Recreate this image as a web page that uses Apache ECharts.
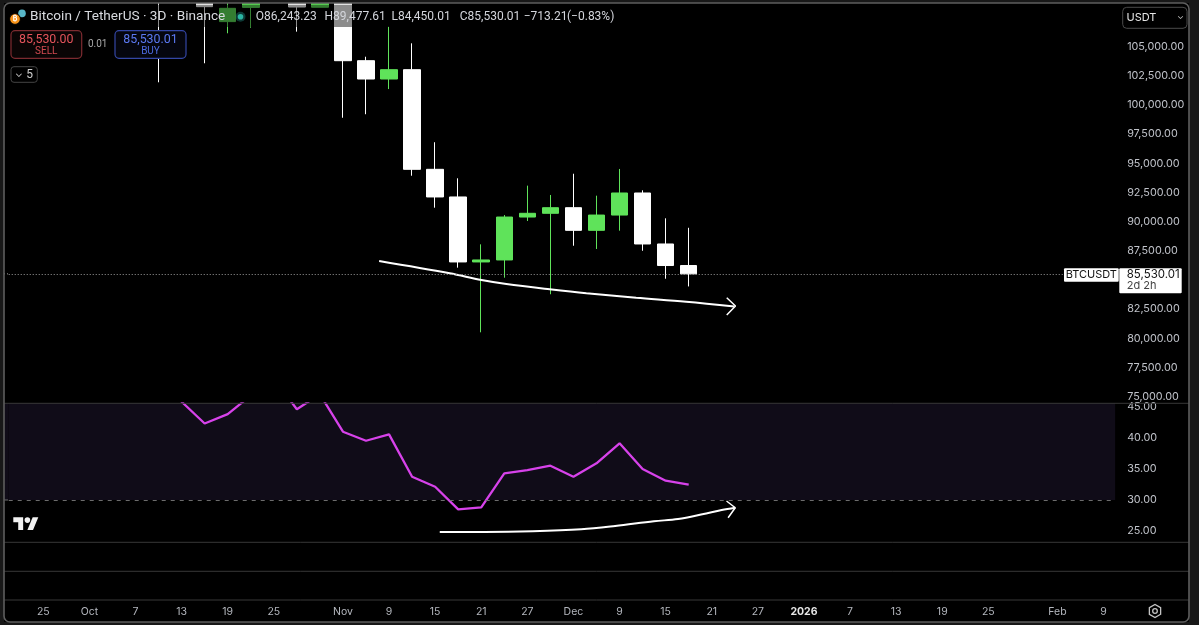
<!DOCTYPE html>
<html><head><meta charset="utf-8">
<script src="https://cdn.jsdelivr.net/npm/echarts@6/dist/echarts.min.js"></script>
<style>html,body{margin:0;padding:0;background:#181818;}#c{width:1199px;height:625px;}</style>
</head><body><div id="c"></div>
<script>
// ---- data ----
const dates = ['2025-09-22','2025-09-25','2025-09-28','2025-10-01','2025-10-04','2025-10-07','2025-10-10','2025-10-13','2025-10-16','2025-10-19','2025-10-22','2025-10-25','2025-10-28','2025-10-31','2025-11-03','2025-11-06','2025-11-09','2025-11-12','2025-11-15','2025-11-18','2025-11-21','2025-11-24','2025-11-27','2025-11-30','2025-12-03','2025-12-06','2025-12-09','2025-12-12','2025-12-15','2025-12-18','2025-12-21','2025-12-24','2025-12-27','2025-12-30','2026-01-01','2026-01-04','2026-01-07','2026-01-10','2026-01-13','2026-01-16','2026-01-19','2026-01-22','2026-01-25','2026-01-28','2026-01-31','2026-02-03','2026-02-06','2026-02-09'];
const tickLabels = {'2025-09-25':'25','2025-10-01':'Oct','2025-10-07':'7','2025-10-13':'13','2025-10-19':'19','2025-10-25':'25','2025-11-03':'Nov','2025-11-09':'9','2025-11-15':'15','2025-11-21':'21','2025-11-27':'27','2025-12-03':'Dec','2025-12-09':'9','2025-12-15':'15','2025-12-21':'21','2025-12-27':'27','2026-01-01':'2026','2026-01-07':'7','2026-01-13':'13','2026-01-19':'19','2026-01-25':'25','2026-02-03':'Feb','2026-02-09':'9'};
const openP  = [115300,113300,109700,114300,122300,124700,121500,115200,110700,107150,108370,111000,114100,108380,110500,103800,102230,103030,94490,92120,86550,86720,90400,90720,91200,89260,90570,92460,88090,86243.23];
const highP  = [115400,113500,114800,123900,125500,126200,122500,116000,111700,110700,111900,116100,116000,111200,110800,104140,106710,105290,96810,93720,88060,90570,93090,92290,94110,92230,94520,92690,90290,89477.61];
const lowP   = [111900,109000,109300,113800,121700,120600,101950,110200,103580,106150,106630,110700,106290,108380,98910,99210,101370,93940,91200,86060,80520,85200,90060,83780,87940,87660,89230,87510,85110,84450.01];
const closeP = [113300,109700,114300,122300,124700,121500,115200,110700,108430,108290,111000,114100,108400,110500,103800,102230,103030,94490,92120,86550,86720,90400,90720,91200,89260,90570,92460,88090,86243.22,85530.01];
const rsiValues = [55,50,56,64,66,62,52,45.8,42.3,43.8,46.8,49.5,44.6,47.0,40.98,39.53,40.56,33.75,32.14,28.5,28.83,34.29,34.82,35.51,33.75,35.9,39.12,34.98,33.1,32.46];
const priceTicks = [105000,102500,100000,97500,95000,92500,90000,87500,82500,80000,77500,75000];
const rsiTicks = [25,30,35,40,45];
// hand-drawn annotations, in [candle number counted from Sep 25, value]
const trendPrice = [[14.57,86631],[17.63,85577],[19.01,85003],[20.09,84660],[21.97,84206],[23.56,83863],[25.72,83486],[27.89,83143],[29.98,82731]];
const arrowPrice = [[29.65,83486],[30.03,82774],[29.65,82003]];
const trendRsi = [[17.2,24.86],[19.14,24.86],[21.23,24.97],[23.34,25.29],[24.81,25.82],[26.49,26.58],[27.54,26.95],[28.59,27.7],[29.43,28.39],[30.02,28.76]];
const arrowRsi = [[29.64,29.84],[30.02,28.76],[29.71,27.15]];
const symbolTitle = 'Bitcoin / TetherUS · 3D · Binance';
const countdown = '2d 2h';

// ---- layout ----
const FONT = 'Inter, "Noto Sans", sans-serif';
const HFONT = 'Roboto, "Noto Sans", sans-serif';
const BW = 23.05;
const GL = 43.3 - 1.5*BW, GW = dates.length*BW;
const priceMin = 74434, priceMax = 108600;
const rsiMin = 23.2, rsiMax = 45.55;
const kMin = -1.5, kMax = dates.length - 1.5;
const UP = '#5fe35a', DOWN = '#ffffff';

const candles = openP.map((o,i)=>[o, closeP[i], lowP[i], highP[i]]);
const fmt2 = v => v.toLocaleString('en-US',{minimumFractionDigits:2, maximumFractionDigits:2});
const lastI = closeP.length-1;
const lastClose = closeP[lastI];

const chart = echarts.init(document.getElementById('c'), null, {renderer:'canvas'});
chart.setOption({
  animation:false,
  backgroundColor:'#000000',
  grid:[
    {left:GL, width:GW, top:4.7, height:398.6},
    {left:GL, width:GW, top:403.3, height:139},
    {left:GL, width:GW, top:542.3, height:57.7}
  ],
  xAxis:[
    {type:'category', gridIndex:0, data:dates, show:false},
    {type:'category', gridIndex:1, data:dates, show:false},
    {type:'category', gridIndex:2, data:dates, axisLine:{show:false}, axisTick:{show:false}, splitLine:{show:false},
      axisLabel:{interval:(i,v)=>tickLabels[v]!==undefined, margin:6, color:'#b4b7be', fontSize:10.5, fontFamily:FONT,
        formatter:v=> v==='2026-01-01' ? '{b|'+tickLabels[v]+'}' : (tickLabels[v]||''),
        rich:{b:{fontWeight:'bold', color:'#e6e6e6', fontSize:10.5, fontFamily:FONT}}}},
    {type:'value', gridIndex:0, min:kMin, max:kMax, show:false},
    {type:'value', gridIndex:1, min:kMin, max:kMax, show:false}
  ],
  yAxis:[
    {type:'value', gridIndex:0, position:'right', min:priceMin, max:priceMax,
      axisLine:{show:false}, axisTick:{show:false}, splitLine:{show:false},
      axisLabel:{customValues:priceTicks, formatter:v=>fmt2(v), color:'#c0c3ca', fontSize:10.8, fontFamily:FONT, align:'left', margin:12}},
    {type:'value', gridIndex:1, position:'right', min:rsiMin, max:rsiMax,
      axisLine:{show:false}, axisTick:{show:false}, splitLine:{show:false},
      axisLabel:{customValues:rsiTicks, formatter:v=>v.toFixed(2), color:'#c0c3ca', fontSize:10.8, fontFamily:FONT, align:'left', margin:12}},
    {type:'value', gridIndex:2, min:0, max:1, show:false}
  ],
  series:[
    {type:'candlestick', xAxisIndex:0, yAxisIndex:0, data:candles, barWidth:17, clip:true,
      itemStyle:{color:UP, color0:DOWN, borderColor:UP, borderColor0:DOWN, borderWidth:1},
      markLine:{silent:true, symbol:'none', label:{show:false},
        lineStyle:{type:[1,2], color:'#9a9a9a', width:1}, data:[{yAxis:lastClose}]}},
    {type:'line', xAxisIndex:1, yAxisIndex:1, data:rsiValues, symbol:'none', clip:true,
      lineStyle:{color:'#d742ea', width:2.3}, z:3,
      markArea:{silent:true, itemStyle:{color:'#100c18'}, data:[[{yAxis:30},{yAxis:rsiMax}]]},
      markLine:{silent:true, symbol:'none', label:{show:false},
        lineStyle:{type:[4,5], color:'#6c6c6c', width:1}, data:[{yAxis:30}]}},
    {type:'line', xAxisIndex:3, yAxisIndex:0, data:trendPrice, smooth:0.35, symbol:'none',
      lineStyle:{color:'#ffffff', width:2}, z:4},
    {type:'line', xAxisIndex:3, yAxisIndex:0, data:arrowPrice, symbol:'none',
      lineStyle:{color:'#ffffff', width:1.5}, z:4},
    {type:'line', xAxisIndex:4, yAxisIndex:1, data:trendRsi, smooth:0.35, symbol:'none',
      lineStyle:{color:'#ffffff', width:2}, z:4},
    {type:'line', xAxisIndex:4, yAxisIndex:1, data:arrowRsi, symbol:'none',
      lineStyle:{color:'#ffffff', width:1.5}, z:4}
  ]
});

// ---- overlay UI ----
const Z = 100;
function txt(x,y,s,opt){ return {type:'text', x:x, y:y, z:Z+2, silent:true,
  style:Object.assign({text:s, fill:'#d4d6dc', font:'12px '+FONT, verticalAlign:'middle', align:'left'}, opt||{})}; }
function rect(x,y,w,h,style,r,z){ return {type:'rect', z:z||Z+1, silent:true, shape:{x:x,y:y,width:w,height:h,r:r||0}, style:style}; }
function hline(y,x1,x2,color,dash){ return {type:'line', z:Z, silent:true, shape:{x1:x1,y1:y,x2:x2,y2:y}, style:{stroke:color, lineWidth:1, lineDash:dash||null}}; }

const py = chart.convertToPixel({yAxisIndex:0}, lastClose);
const y30 = chart.convertToPixel({yAxisIndex:1}, 30);
const o = openP[lastI], h = highP[lastI], l = lowP[lastI], c = closeP[lastI];
const chg = c - closeP[lastI-1];
const pct = chg/closeP[lastI-1]*100;
const sgn = v => (v<0?'\u2212':'+') + Math.abs(v).toFixed(2);

const hex = [];
for (let i=0;i<6;i++){ const a=Math.PI/6+i*Math.PI/3; hex.push([1155+6.5*Math.cos(a), 611+6.5*Math.sin(a)]); }
const ls = 25/35.5;
const HF = '12px '+HFONT;

const g = [
  // band / price line continuation to the frame edge
  rect(4,403.3,GL-4,y30-403.3,{fill:'#100c18'},0,1),
  hline(y30,4,GL,'#6c6c6c',[4,5]),
  hline(py,4,GL,'#9a9a9a',[1,2]),
  // header translucent backdrop
  rect(5,4.7,627,22.3,{fill:'rgba(0,0,0,0.45)'},0,Z),
  // separators
  hline(403.3,4,1189,'#383838'), hline(542.3,4,1189,'#383838'), hline(571.3,4,1189,'#383838'), hline(600,4,1189,'#383838'),
  // bitcoin icon
  {type:'circle', z:Z+1, silent:true, shape:{cx:22,cy:13.4,r:3.8}, style:{fill:'#58b6c8'}},
  {type:'circle', z:Z+2, silent:true, shape:{cx:15,cy:19,r:5.4}, style:{fill:'#f7931a', stroke:'#000', lineWidth:1}},
  txt(15,19.3,'\u20bf',{fill:'#fff', font:'bold 7px '+FONT, align:'center'}),
  txt(30,17,symbolTitle,{font:'13.6px '+HFONT, fill:'#d8dadf'}),
  {type:'circle', z:Z+1, silent:true, shape:{cx:240.5,cy:16.7,r:5}, style:{fill:'rgba(38,166,154,0.35)'}},
  {type:'circle', z:Z+2, silent:true, shape:{cx:240.5,cy:16.7,r:2.8}, style:{fill:'#2bb5a3'}},
  txt(255.8,17,'O'+fmt2(o),{font:HF}), txt(324.5,17,'H'+fmt2(h),{font:HF}), txt(391.5,17,'L'+fmt2(l),{font:HF}), txt(459.8,17,'C'+fmt2(c),{font:HF}),
  txt(523.7,17,sgn(chg),{font:HF}), txt(567,17,'('+sgn(pct)+'%)',{font:HF}),
  // sell / buy
  rect(11,30.7,70.7,27.6,{fill:'#0a0505', stroke:'#7d2b30', lineWidth:1.2},4),
  txt(46.3,39.5,fmt2(lastClose-0.01),{fill:'#e4545b', align:'center', font:'12.4px '+HFONT}),
  txt(46.3,51.3,'SELL',{fill:'#d24a50', align:'center', font:'10px '+HFONT}),
  txt(97.7,44.5,'0.01',{fill:'#a8a8a8', align:'center', font:'10px '+HFONT}),
  rect(115,30.7,71,27.6,{fill:'#05060e', stroke:'#3447a6', lineWidth:1.2},4),
  txt(150.5,39.5,fmt2(lastClose),{fill:'#5b79f2', align:'center', font:'12.4px '+HFONT}),
  txt(150.5,51.3,'BUY',{fill:'#4d6be0', align:'center', font:'10px '+HFONT}),
  rect(11,66.7,26.3,15.6,{fill:'#000', stroke:'#444', lineWidth:1},3),
  txt(19,73.5,'\u2304',{fill:'#cfcfcf', align:'center', font:'10px '+FONT}),
  txt(29.5,74.6,'5',{fill:'#cfcfcf', align:'center', font:'12px '+HFONT}),
  // USDT selector
  rect(1122.7,7.3,64.3,21,{fill:'#000', stroke:'#4a4a4a', lineWidth:1},4),
  txt(1126.5,18,'USDT',{fill:'#e6e6e6', font:'11px '+FONT}),
  txt(1180.5,16.5,'\u2304',{fill:'#bdbdbd', align:'center', font:'9px '+FONT}),
  // last price labels
  rect(1064,py-5.6,54.7,13.4,{fill:'#ffffff'},1),
  txt(1091.3,py+1,'BTCUSDT',{fill:'#111', align:'center', font:'11px '+FONT}),
  rect(1119.3,py-5.6,62.4,25,{fill:'#ffffff'},1),
  txt(1126.7,py+0.6,fmt2(lastClose),{fill:'#111', font:'11.5px '+FONT}),
  txt(1126.7,py+12,countdown,{fill:'#444', font:'11px '+FONT}),
  // TradingView logo
  {type:'group', x:13.3, y:517.3-4*ls, scaleX:ls, scaleY:ls, z:Z+1, silent:true, children:[
    {type:'polygon', z:Z+1, shape:{points:[[14,22],[7,22],[7,11],[0,11],[0,4],[14,4]]}, style:{fill:'#f2f2f2'}},
    {type:'polygon', z:Z+1, shape:{points:[[28,22],[20,22],[27.5,4],[35.5,4]]}, style:{fill:'#f2f2f2'}},
    {type:'circle', z:Z+1, shape:{cx:20,cy:8,r:4}, style:{fill:'#f2f2f2'}}
  ]},
  // gear icon
  {type:'polygon', z:Z+1, silent:true, shape:{points:hex}, style:{fill:'none', stroke:'#c4c4c4', lineWidth:1.3}},
  {type:'circle', z:Z+1, silent:true, shape:{cx:1155,cy:611,r:2.3}, style:{fill:'none', stroke:'#c4c4c4', lineWidth:1.3}},
  // outer frame
  rect(0,0,4,625,{fill:'#181818'},0,Z+5), rect(1189,0,10,625,{fill:'#181818'},0,Z+5),
  rect(0,0,1199,3,{fill:'#181818'},0,Z+5), rect(0,622,1199,3,{fill:'#181818'},0,Z+5),
  {type:'rect', z:Z+6, silent:true, shape:{x:4,y:3,width:1185,height:619,r:6}, style:{fill:'none', stroke:'#5e5e5e', lineWidth:1.6}}
];
chart.setOption({graphic:g});
</script>
</body></html>
